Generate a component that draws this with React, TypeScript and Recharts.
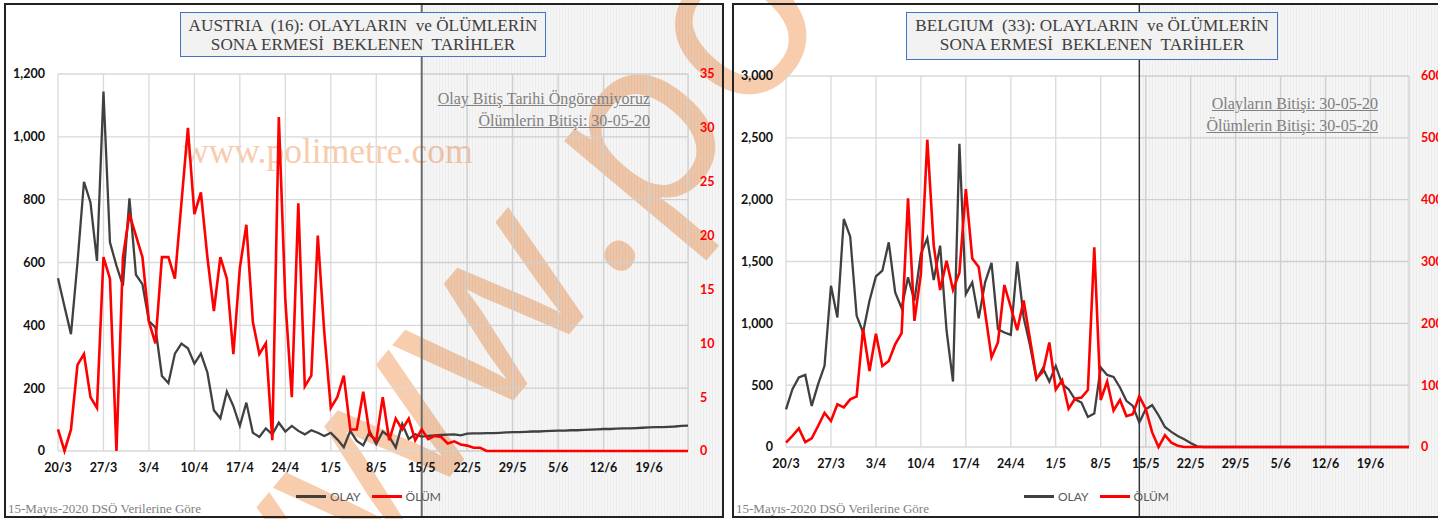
import React from 'react';
import { LineChart, Line, XAxis, YAxis, CartesianGrid, ReferenceArea } from 'recharts';

// 20 Mart - 25 Haziran (günlük)
const days = [
  ...'20/3 21/3 22/3 23/3 24/3 25/3 26/3 27/3 28/3 29/3 30/3 31/3'.split(' '),
  ...'1/4 2/4 3/4 4/4 5/4 6/4 7/4 8/4 9/4 10/4 11/4 12/4 13/4 14/4 15/4 16/4 17/4 18/4 19/4 20/4 21/4 22/4 23/4 24/4 25/4 26/4 27/4 28/4 29/4 30/4'.split(' '),
  ...'1/5 2/5 3/5 4/5 5/5 6/5 7/5 8/5 9/5 10/5 11/5 12/5 13/5 14/5 15/5 16/5 17/5 18/5 19/5 20/5 21/5 22/5 23/5 24/5 25/5 26/5 27/5 28/5 29/5 30/5 31/5'.split(' '),
  ...'1/6 2/6 3/6 4/6 5/6 6/6 7/6 8/6 9/6 10/6 11/6 12/6 13/6 14/6 15/6 16/6 17/6 18/6 19/6 20/6 21/6 22/6 23/6 24/6 25/6'.split(' '),
];

const weekTicks = ['20/3', '27/3', '3/4', '10/4', '17/4', '24/4', '1/5', '8/5', '15/5', '22/5', '29/5', '5/6', '12/6', '19/6'];

const austriaCases = [
  550, 460, 372, 600, 857, 791, 605, 1144, 664, 590, 526, 804, 561, 531, 414, 393, 239, 216, 310, 342,
  327, 278, 310, 250, 130, 104, 189, 143, 80, 154, 58, 45, 72, 53, 90, 62, 80, 64, 53, 66,
  58, 48, 58, 37, 12, 64, 32, 18, 62, 22, 62, 46, 11, 86, 38, 53,
  46, 48, 50, 51, 52, 53, 50, 55, 56, 56, 57, 57, 58, 59, 60, 60, 61, 62, 62, 63,
  64, 65, 65, 66, 66, 67, 68, 69, 70, 70, 71, 72, 72, 73, 74, 75, 76, 76, 77, 78, 80, 81,
];
const austriaDeaths = [
  2, 0, 2, 8, 9, 5, 4, 18, 16, 0, 18, 22, 20, 18, 12, 10, 18, 18, 16, 23,
  30, 22, 24, 18, 13, 18, 16, 9, 17, 21, 12, 9, 10, 1, 31, 14, 5, 23, 6, 7,
  20, 11, 4, 5, 7, 2, 2, 5.5, 1.5, 1, 5, 1, 3, 2, 3, 1,
  2, 1.1, 1.4, 1.3, 0.7, 0.9, 0.6, 0.5, 0.3, 0.3,
  0, 0, 0, 0, 0, 0, 0, 0, 0, 0, 0, 0, 0, 0, 0, 0, 0, 0, 0, 0, 0, 0, 0, 0, 0, 0, 0, 0, 0, 0, 0, 0,
];

const belgiumCases = [
  305, 467, 562, 583, 332, 508, 656, 1304, 1048, 1844, 1701, 1061, 926, 1183, 1380, 1426, 1655, 1250, 1123, 1372,
  1183, 1561, 1688, 1350, 1628, 940, 529, 2452, 1237, 1331, 1040, 1331, 1488, 953, 926, 907, 1499, 1048, 818, 548,
  637, 529, 656, 508, 467, 386, 359, 243, 270, 643, 583, 567, 481, 373, 332, 197, 305, 338, 257, 162,
  122, 89, 62, 32, 5,
  0, 0, 0, 0, 0, 0, 0, 0, 0, 0, 0, 0, 0, 0, 0, 0, 0, 0, 0, 0, 0, 0, 0, 0, 0, 0, 0, 0, 0, 0, 0, 0, 0,
];
const belgiumDeaths = [
  7, 18, 30, 8, 14, 34, 55, 42, 69, 64, 77, 82, 191, 123, 183, 131, 139, 166, 184, 402,
  204, 280, 497, 326, 254, 301, 254, 282, 417, 305, 291, 218, 145, 169, 262, 226, 189, 237, 174, 111,
  122, 169, 93, 108, 62, 78, 80, 92, 323, 76, 106, 59, 76, 50, 53, 82, 62, 24, 0, 19,
  7, 2,
  0, 0, 0, 0, 0, 0, 0, 0, 0, 0, 0, 0, 0, 0, 0, 0, 0, 0, 0, 0, 0, 0, 0, 0, 0, 0, 0, 0, 0, 0, 0, 0, 0, 0, 0, 0,
];

const austriaLeftTicks = [0, 200, 400, 600, 800, 1000, 1200];
const austriaRightTicks = [0, 5, 10, 15, 20, 25, 30, 35];
const belgiumLeftTicks = [0, 500, 1000, 1500, 2000, 2500, 3000];
const belgiumRightTicks = [0, 100, 200, 300, 400, 500, 600];

const PANEL_W = 720;
const PANEL_H = 515;
const SERIF = '"Liberation Serif", "Times New Roman", serif';
const SANS = 'Lato, "Open Sans", sans-serif';

type PanelCfg = {
  id: string;
  x: number;
  cases: number[];
  deaths: number[];
  leftTicks: number[];
  rightTicks: number[];
  split: string;
  title1: string;
  title2: string;
  note1: string;
  note2: string;
  margin: { top: number; right: number; bottom: number; left: number };
  rightWidth: number;
  titleBox: { left: number; top: number; width: number; height: number };
  noteTop: number;
  divider: { color: string; width: number };
};

const panels: PanelCfg[] = [
  {
    id: 'at',
    x: 4,
    cases: austriaCases,
    deaths: austriaDeaths,
    leftTicks: austriaLeftTicks,
    rightTicks: austriaRightTicks,
    split: '15/5',
    title1: 'AUSTRIA  (16): OLAYLARIN  ve ÖLÜMLERİN',
    title2: 'SONA ERMESİ  BEKLENEN  TARİHLER',
    note1: 'Olay Bitiş Tarihi Öngöremiyoruz',
    note2: 'Ölümlerin Bitişi: 30-05-20',
    margin: { top: 71, right: 0, bottom: 37, left: 0 },
    rightWidth: 36,
    titleBox: { left: 176, top: 9, width: 366, height: 45 },
    noteTop: 85,
    divider: { color: '#6b6b6b', width: 2 },
  },
  {
    id: 'be',
    x: 732,
    cases: belgiumCases,
    deaths: belgiumDeaths,
    leftTicks: belgiumLeftTicks,
    rightTicks: belgiumRightTicks,
    split: '14/5',
    title1: 'BELGIUM  (33): OLAYLARIN  ve ÖLÜMLERİN',
    title2: 'SONA ERMESİ  BEKLENEN  TARİHLER',
    note1: 'Olayların Bitişi: 30-05-20',
    note2: 'Ölümlerin Bitişi: 30-05-20',
    margin: { top: 73, right: 0, bottom: 41, left: 0 },
    rightWidth: 43,
    titleBox: { left: 174, top: 9, width: 372, height: 48 },
    noteTop: 90,
    divider: { color: '#111', width: 1.2 },
  },
];

const Shade = (props: any) => {
  const { x, id, divider } = props;
  if (x == null) return null;
  return (
    <g>
      <defs>
        <pattern id={`stripes-${id}`} width="3" height="10" patternUnits="userSpaceOnUse">
          <rect width="3" height="10" fill="rgba(0,0,0,0.04)" />
          <rect width="1" height="10" fill="rgba(0,0,0,0.03)" />
        </pattern>
      </defs>
      <rect x={x} y={0} width={PANEL_W - x} height={PANEL_H} fill={`url(#stripes-${id})`} />
      <line x1={x} x2={x} y1={0} y2={PANEL_H} stroke={divider.color} strokeWidth={divider.width} />
    </g>
  );
};

function Panel({ cfg }: { cfg: PanelCfg }) {
  const rows = days.map((day, i) => ({ day, olay: cfg.cases[i], olum: cfg.deaths[i] }));
  const leftMax = cfg.leftTicks[cfg.leftTicks.length - 1];
  const rightMax = cfg.rightTicks[cfg.rightTicks.length - 1];
  const tickFont = { fontFamily: SANS, fontWeight: 700, fontSize: 12.5 };
  return (
    <div style={{ position: 'absolute', left: cfg.x, top: 3, width: PANEL_W, height: PANEL_H }}>
      <LineChart width={PANEL_W} height={PANEL_H} data={rows} margin={cfg.margin} style={{ position: 'absolute', left: 0, top: 0 }}>
        <ReferenceArea
          x1={cfg.split}
          x2={days[days.length - 1]}
          yAxisId="left"
          ifOverflow="visible"
          shape={(p: any) => <Shade {...p} id={cfg.id} divider={cfg.divider} />}
        />
        <CartesianGrid yAxisId="left" stroke="#d9d9d9" strokeWidth={1.3} />
        <XAxis
          dataKey="day"
          ticks={weekTicks}
          interval={0}
          axisLine={false}
          tickLine={false}
          tickMargin={6}
          height={30}
          tick={{ ...tickFont, fill: '#111' }}
        />
        <YAxis
          yAxisId="left"
          width={54}
          domain={[0, leftMax]}
          ticks={cfg.leftTicks}
          axisLine={false}
          tickLine={false}
          tickMargin={7}
          tickFormatter={(v: number) => v.toLocaleString('en-US')}
          tick={{ ...tickFont, fill: '#111' }}
        />
        <YAxis
          yAxisId="right"
          orientation="right"
          width={cfg.rightWidth}
          domain={[0, rightMax]}
          ticks={cfg.rightTicks}
          axisLine={false}
          tickLine={false}
          tickMargin={6}
          tick={{ ...tickFont, fill: '#ff0000' }}
        />
        <Line yAxisId="left" dataKey="olay" name="OLAY" stroke="#404040" strokeWidth={2.3} dot={false} isAnimationActive={false} />
        <Line yAxisId="right" dataKey="olum" name="ÖLÜM" stroke="#ff0000" strokeWidth={2.6} dot={false} isAnimationActive={false} />
      </LineChart>

      <div
        style={{
          position: 'absolute',
          left: cfg.titleBox.left,
          top: cfg.titleBox.top,
          width: cfg.titleBox.width,
          height: cfg.titleBox.height,
          boxSizing: 'border-box',
          background: '#f2f2f2',
          border: '1.5px solid #4472c4',
          fontFamily: SERIF,
          fontSize: 17.2,
          lineHeight: '19.5px',
          color: '#404040',
          textAlign: 'center',
          paddingTop: 2.5,
          whiteSpace: 'pre',
        }}
      >
        <div>{cfg.title1}</div>
        <div>{cfg.title2}</div>
      </div>

      <div
        style={{
          position: 'absolute',
          right: PANEL_W - 646,
          top: cfg.noteTop,
          fontFamily: SERIF,
          fontSize: 16,
          lineHeight: '22px',
          color: '#808080',
          textAlign: 'right',
          textDecoration: 'underline',
          whiteSpace: 'pre',
        }}
      >
        <div>{cfg.note1}</div>
        <div>{cfg.note2}</div>
      </div>

      <div
        style={{
          position: 'absolute',
          left: 292,
          top: 486,
          display: 'flex',
          alignItems: 'center',
          fontFamily: SANS,
          fontSize: 12,
          color: '#595959',
        }}
      >
        <span style={{ display: 'inline-block', width: 30, height: 3, background: '#404040', marginRight: 4 }} />
        <span style={{ marginRight: 11 }}>OLAY</span>
        <span style={{ display: 'inline-block', width: 30, height: 3, background: '#ff0000', marginRight: 4 }} />
        <span>ÖLÜM</span>
      </div>

      <div
        style={{
          position: 'absolute',
          left: 4,
          top: 498,
          fontFamily: SERIF,
          fontSize: 13,
          color: '#7f7f7f',
          whiteSpace: 'pre',
        }}
      >
        15-Mayıs-2020 DSÖ Verilerine Göre
      </div>

      <div
        style={{
          position: 'absolute',
          left: 0,
          top: 0,
          width: PANEL_W,
          height: PANEL_H,
          boxSizing: 'border-box',
          border: '2px solid #222',
          pointerEvents: 'none',
        }}
      />
    </div>
  );
}

export default function App() {
  return (
    <div style={{ position: 'absolute', left: 0, top: 0, width: 1438, height: 519, overflow: 'hidden', background: '#fff' }}>
      <svg width={1438} height={519} style={{ position: 'absolute', left: 0, top: 0 }}>
        <text x={183} y={163} fontFamily={SERIF} fontSize={35.5} fill="#f8cbad">
          www.polimetre.com
        </text>
        <text
          transform="translate(250 715) rotate(-50)"
          fontFamily='"Open Sans", sans-serif'
          fontWeight={400}
          fontSize={240}
          fill="#f8c8a6"
          opacity={0.9}
        >
          www.poli
        </text>
      </svg>
      {panels.map((p) => (
        <Panel key={p.id} cfg={p} />
      ))}
    </div>
  );
}
